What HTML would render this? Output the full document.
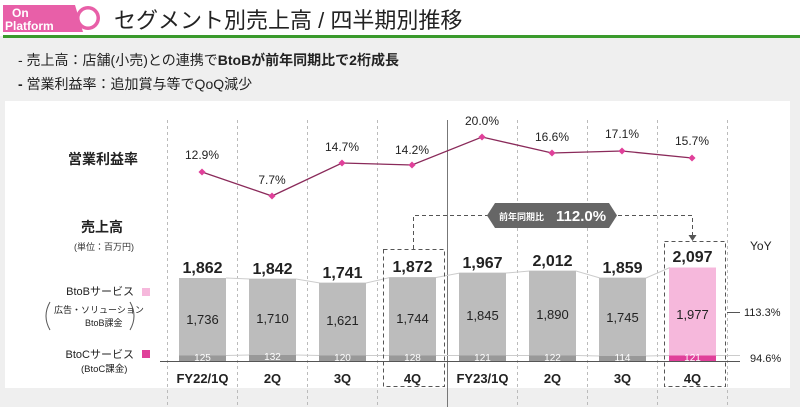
<!DOCTYPE html>
<html><head><meta charset="utf-8"><style>
body{margin:0;width:800px;height:407px;overflow:hidden;background:#fff;font-family:"Liberation Sans","Noto Sans CJK JP",sans-serif}
</style></head><body>
<svg width="800" height="407" xmlns="http://www.w3.org/2000/svg" font-family="Liberation Sans, Noto Sans CJK JP, sans-serif">
<rect x="0" y="0" width="800" height="407" fill="#efefef"/>
<rect x="0" y="0" width="800" height="36" fill="#fff"/>
<polygon points="3,5 75,5 83,32 3,32" fill="#e85fa8"/>
<text x="12" y="17" font-size="12" font-weight="bold" fill="#fff">On</text>
<text x="5" y="30" font-size="12" font-weight="bold" fill="#fff">Platform</text>
<circle cx="88" cy="18" r="12" fill="#e85fa8"/>
<circle cx="88" cy="18" r="8.5" fill="#fff"/>
<text x="114" y="28" font-size="22" fill="#222">セグメント別売上高 / 四半期別推移</text>
<rect x="3" y="35" width="797" height="3" fill="#3a9a2c"/>
<text x="18" y="65" font-size="14" fill="#222">-  売上高：店舗(小売)との連携で<tspan font-weight="bold">BtoBが前年同期比で2桁成長</tspan></text>
<text x="18" y="89" font-size="14" fill="#222"><tspan font-weight="bold">-</tspan>  営業利益率：追加賞与等でQoQ減少</text>
<rect x="5" y="101" width="785" height="287" fill="#fff"/>
<g stroke="#bbb" stroke-dasharray="3,3" stroke-width="1">
<line x1="167.5" y1="120" x2="167.5" y2="407"/><line x1="237.5" y1="120" x2="237.5" y2="407"/><line x1="307.5" y1="120" x2="307.5" y2="407"/><line x1="377.5" y1="120" x2="377.5" y2="407"/><line x1="517.5" y1="120" x2="517.5" y2="407"/><line x1="587.5" y1="120" x2="587.5" y2="407"/><line x1="657.5" y1="120" x2="657.5" y2="407"/><line x1="727.5" y1="120" x2="727.5" y2="407"/>
</g>
<line x1="447.5" y1="120" x2="447.5" y2="407" stroke="#777" stroke-width="1"/>
<text x="68" y="164" font-size="14" font-weight="bold" fill="#222">営業利益率</text>
<polyline points="202,172 272,196 342,163 412,165 482,137 552,153 622,151 692,158" fill="none" stroke="#8a2a5a" stroke-width="1.3"/>
<g fill="#e0409a">
<g transform="translate(202,172) rotate(45)"><rect x="-2.5" y="-2.5" width="5" height="5"/></g>
<g transform="translate(272,196) rotate(45)"><rect x="-2.5" y="-2.5" width="5" height="5"/></g>
<g transform="translate(342,163) rotate(45)"><rect x="-2.5" y="-2.5" width="5" height="5"/></g>
<g transform="translate(412,165) rotate(45)"><rect x="-2.5" y="-2.5" width="5" height="5"/></g>
<g transform="translate(482,137) rotate(45)"><rect x="-2.5" y="-2.5" width="5" height="5"/></g>
<g transform="translate(552,153) rotate(45)"><rect x="-2.5" y="-2.5" width="5" height="5"/></g>
<g transform="translate(622,151) rotate(45)"><rect x="-2.5" y="-2.5" width="5" height="5"/></g>
<g transform="translate(692,158) rotate(45)"><rect x="-2.5" y="-2.5" width="5" height="5"/></g>
</g>
<g font-size="12" fill="#222" text-anchor="middle">
<text x="202" y="159">12.9%</text><text x="272" y="184">7.7%</text><text x="342" y="151">14.7%</text><text x="412" y="154">14.2%</text><text x="482" y="125">20.0%</text><text x="552" y="141">16.6%</text><text x="622" y="138">17.1%</text><text x="692" y="145">15.7%</text>
</g>
<text x="81" y="232" font-size="14" font-weight="bold" fill="#222">売上高</text>
<text x="74" y="250" font-size="9" fill="#333">(単位：百万円)</text>
<text x="134" y="295" font-size="11" fill="#222" text-anchor="end">BtoBサービス</text>
<rect x="142" y="288" width="8" height="8" fill="#f6b8dc"/>
<text x="54" y="313" font-size="9" fill="#222">広告・ソリューション</text>
<text x="85" y="326" font-size="9" fill="#222">BtoB課金</text>
<path d="M50,302 Q42,316 50,330" fill="none" stroke="#555"/>
<path d="M130,302 Q138,316 130,330" fill="none" stroke="#555"/>
<text x="134" y="358" font-size="11" fill="#222" text-anchor="end">BtoCサービス</text>
<rect x="142" y="350" width="8" height="8" fill="#e0409a"/>
<text x="81" y="372" font-size="9.5" fill="#222">(BtoC課金)</text>
<polyline points="226,278 250,279 296,279 320,283 366,283 390,277.5 436,277.5 460,273 506,273 530,271 576,271 600,278 646,278 670,267.5" fill="none" stroke="#ccc"/>
<polyline points="226,355.5 250,355 296,355 320,355.5 366,355.5 390,355.5 436,355.5 460,355.5 506,355.5 530,355.5 576,355.5 600,356 646,356 670,355.5 740,355.5" fill="none" stroke="#ccc"/>
<g fill="#bcbcbc">
<rect x="179" y="278" width="47" height="83"/><rect x="249" y="279" width="47" height="82"/><rect x="319" y="283" width="47" height="78"/><rect x="389" y="277.5" width="47" height="83.5"/><rect x="459" y="273" width="47" height="88"/><rect x="529" y="271" width="47" height="90"/><rect x="599" y="278" width="47" height="83"/>
</g>
<rect x="669" y="267.5" width="47" height="93.5" fill="#f6b8dc"/>
<g fill="#999">
<rect x="179" y="355.5" width="47" height="5.5"/><rect x="249" y="355" width="47" height="6"/><rect x="319" y="355.5" width="47" height="5.5"/><rect x="389" y="355.5" width="47" height="5.5"/><rect x="459" y="355.5" width="47" height="5.5"/><rect x="529" y="355.5" width="47" height="5.5"/><rect x="599" y="356" width="47" height="5"/>
</g>
<rect x="669" y="355.5" width="47" height="5.5" fill="#e0409a"/>
<line x1="160" y1="361.5" x2="740" y2="361.5" stroke="#555"/>
<g font-size="13" fill="#222" text-anchor="middle">
<text x="202.5" y="324">1,736</text><text x="272.5" y="323">1,710</text><text x="342.5" y="325">1,621</text><text x="412.5" y="323">1,744</text><text x="482.5" y="320">1,845</text><text x="552.5" y="319">1,890</text><text x="622.5" y="322">1,745</text><text x="692.5" y="319">1,977</text>
</g>
<g font-size="10" fill="#fff" text-anchor="middle">
<text x="202.5" y="361">125</text><text x="272.5" y="360">132</text><text x="342.5" y="361">120</text><text x="412.5" y="361">128</text><text x="482.5" y="361">121</text><text x="552.5" y="361">122</text><text x="622.5" y="361">114</text><text x="692.5" y="361">121</text>
</g>
<g font-size="16" font-weight="bold" fill="#222" text-anchor="middle">
<text x="202.5" y="273">1,862</text><text x="272.5" y="274">1,842</text><text x="342.5" y="278">1,741</text><text x="412.5" y="272">1,872</text><text x="482.5" y="268">1,967</text><text x="552.5" y="266">2,012</text><text x="622.5" y="273">1,859</text><text x="692.5" y="262">2,097</text>
</g>
<g font-size="13" font-weight="bold" fill="#222" text-anchor="middle">
<text x="202.5" y="383">FY22/1Q</text><text x="272.5" y="383">2Q</text><text x="342.5" y="383">3Q</text><text x="412.5" y="383">4Q</text><text x="482.5" y="383">FY23/1Q</text><text x="552.5" y="383">2Q</text><text x="622.5" y="383">3Q</text><text x="692.5" y="383">4Q</text>
</g>
<g fill="none" stroke="#555" stroke-dasharray="4,3">
<rect x="383.5" y="249.5" width="61" height="137"/>
<rect x="664.5" y="241.5" width="61" height="145"/>
<polyline points="413.5,249 413.5,215.5 692.5,215.5 692.5,236"/>
</g>
<polygon points="688.5,235 696.5,235 692.5,241" fill="#555"/>
<polygon points="487,215.5 495,203 609,203 617,215.5 609,228 495,228" fill="#666"/>
<text x="499" y="220" font-size="9" font-weight="bold" fill="#fff">前年同期比</text>
<text x="556" y="221" font-size="15" font-weight="bold" fill="#fff">112.0%</text>
<text x="750" y="250" font-size="12" fill="#222">YoY</text>
<line x1="727" y1="312.5" x2="740" y2="312.5" stroke="#555"/>
<text x="744" y="316" font-size="11" fill="#222">113.3%</text>
<text x="750" y="362" font-size="11" fill="#222">94.6%</text>
</svg>
</body></html>
